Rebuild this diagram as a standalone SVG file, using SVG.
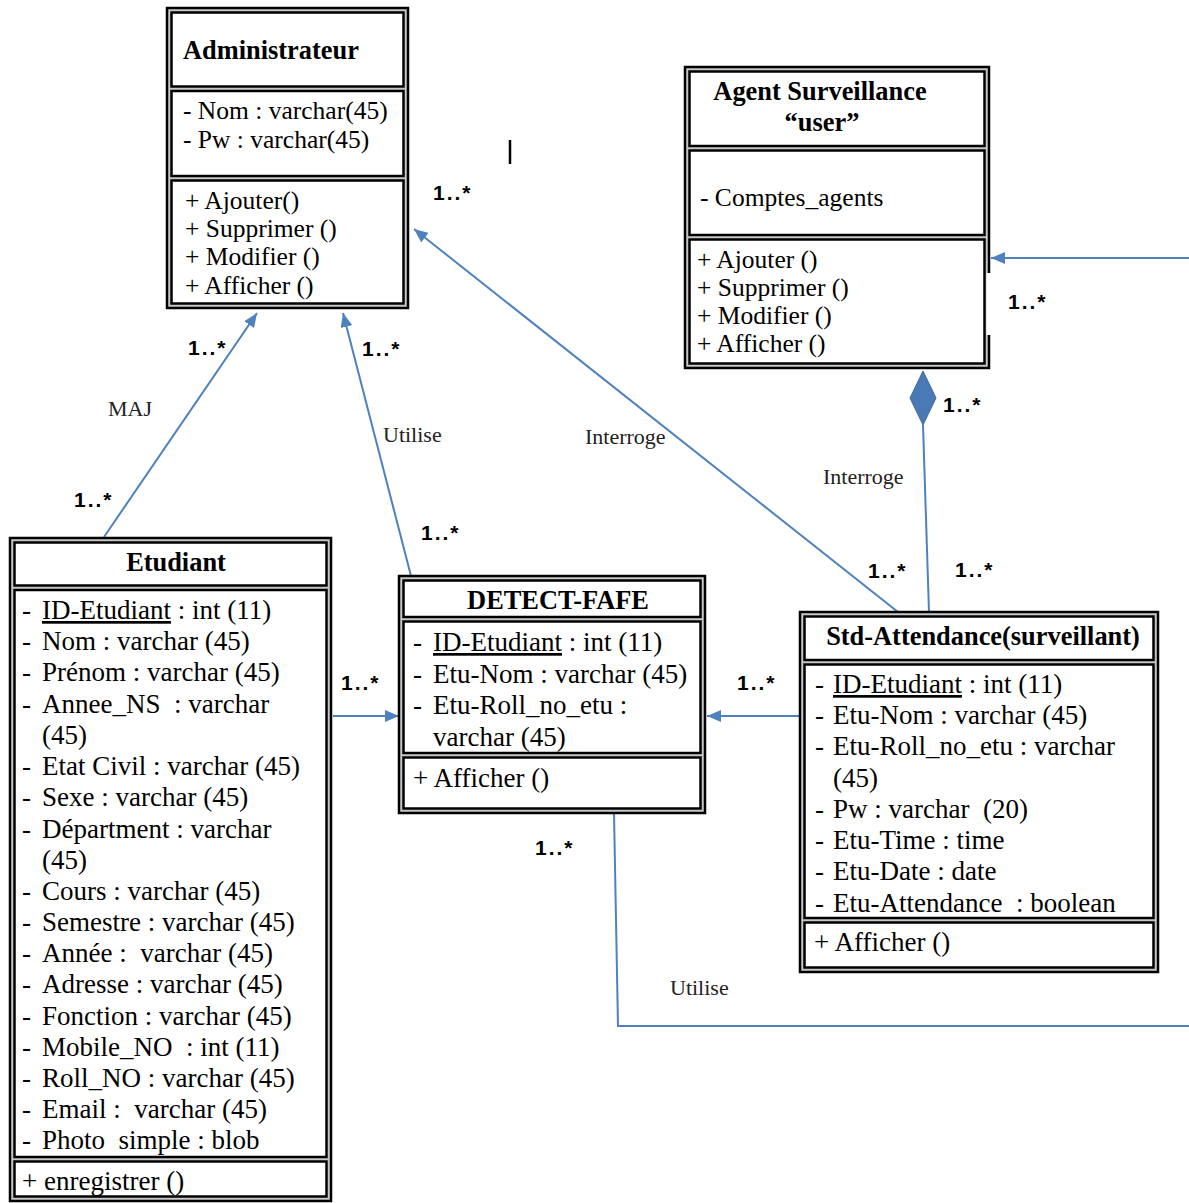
<svg xmlns="http://www.w3.org/2000/svg" width="1189" height="1203" viewBox="0 0 1189 1203">
<style>
.frame{fill:#c8c8c8;stroke:#000;stroke-width:2.5}
.comp{fill:#fff;stroke:#000;stroke-width:2.5}
.hd{font-family:"Liberation Serif","Times New Roman",serif;font-weight:bold;font-size:26.4px;fill:#000}
.at{font-family:"Liberation Serif","Times New Roman",serif;font-size:27px;fill:#000;white-space:pre}
.sm{font-family:"Liberation Serif","Times New Roman",serif;font-size:25.5px;fill:#000}
.u{text-decoration:underline}
.mult{font-family:"Liberation Sans",Arial,sans-serif;font-weight:bold;font-size:21px;letter-spacing:2px;fill:#000}
.lbl{font-family:"Liberation Serif","Times New Roman",serif;font-size:22px;fill:#222}
.cn{fill:none;stroke:#4f81bd;stroke-width:2}
</style>
<defs>
<marker id="arr" viewBox="0 0 14 12" refX="14" refY="6" markerWidth="14" markerHeight="12" markerUnits="userSpaceOnUse" orient="auto">
<path d="M0,0 L14,6 L0,12 z" fill="#4f81bd"/>
</marker>
</defs>
<rect width="1189" height="1203" fill="#fff"/>

<g id="connectors">
<line class="cn" x1="104" y1="537" x2="257" y2="313" marker-end="url(#arr)"/>
<line class="cn" x1="411" y1="576" x2="343" y2="313" marker-end="url(#arr)"/>
<line class="cn" x1="898" y1="612" x2="414" y2="229" marker-end="url(#arr)"/>
<line class="cn" x1="333" y1="716" x2="399" y2="716" marker-end="url(#arr)"/>
<line class="cn" x1="799" y1="716" x2="707" y2="716" marker-end="url(#arr)"/>
<polyline class="cn" points="614,813 618,1026 1189,1026"/>
<line class="cn" x1="1189" y1="258" x2="991" y2="258" marker-end="url(#arr)"/>
<line class="cn" x1="923" y1="425" x2="929" y2="612"/>
<polygon points="923,371 936,398 923,425 910,398" fill="#4a7ab5" stroke="#3f6a9e" stroke-width="1"/>
<line x1="510" y1="140" x2="510" y2="164" stroke="#000" stroke-width="2.5"/>

<text class="lbl" x="108" y="416">MAJ</text>
<text class="lbl" x="383" y="442">Utilise</text>
<text class="lbl" x="585" y="444">Interroge</text>
<text class="lbl" x="823" y="484">Interroge</text>
<text class="lbl" x="670" y="995">Utilise</text>

<text class="mult" x="433" y="200">1..*</text>
<text class="mult" x="188" y="355">1..*</text>
<text class="mult" x="362" y="356">1..*</text>
<text class="mult" x="74" y="507">1..*</text>
<text class="mult" x="421" y="540">1..*</text>
<text class="mult" x="341" y="690">1..*</text>
<text class="mult" x="737" y="690">1..*</text>
<text class="mult" x="868" y="578">1..*</text>
<text class="mult" x="955" y="577">1..*</text>
<text class="mult" x="943" y="412">1..*</text>
<text class="mult" x="1008" y="309">1..*</text>
<text class="mult" x="535" y="855">1..*</text>
</g>

<g id="administrateur">
<rect class="frame" x="167" y="8" width="241" height="300"/>
<rect class="comp" x="171.5" y="12.5" width="232" height="74"/>
<rect class="comp" x="171.5" y="91" width="232" height="85"/>
<rect class="comp" x="171.5" y="180.5" width="232" height="123"/>
<text class="hd" x="183" y="59">Administrateur</text>
<text class="sm" x="183" y="119" font-size="26.5">- Nom : varchar(45)</text>
<text class="sm" x="183" y="148" font-size="26.5">- Pw : varchar(45)</text>
<text class="sm" x="185" y="209">+ Ajouter()</text>
<text class="sm" x="185" y="237">+ Supprimer ()</text>
<text class="sm" x="185" y="265">+ Modifier ()</text>
<text class="sm" x="185" y="294">+ Afficher ()</text>
</g>

<g id="agent">
<rect class="frame" x="685" y="67" width="304" height="301"/>
<rect class="comp" x="689.5" y="71.5" width="295" height="74.5"/>
<rect class="comp" x="689.5" y="150.5" width="295" height="84.5"/>
<rect class="comp" x="689.5" y="239.5" width="295" height="124"/>
<rect x="986.5" y="273" width="5" height="62" fill="#fff"/>
<text class="hd" x="820" y="100" text-anchor="middle">Agent Surveillance</text>
<text class="hd" x="822" y="131" text-anchor="middle">“user”</text>
<text class="sm" x="700" y="206">- Comptes_agents</text>
<text class="sm" x="697" y="268">+ Ajouter ()</text>
<text class="sm" x="697" y="296">+ Supprimer ()</text>
<text class="sm" x="697" y="324">+ Modifier ()</text>
<text class="sm" x="697" y="352">+ Afficher ()</text>
</g>

<g id="etudiant">
<rect class="frame" x="10" y="538" width="321" height="663"/>
<rect class="comp" x="14.5" y="542.5" width="312" height="43"/>
<rect class="comp" x="14.5" y="590" width="312" height="567"/>
<rect class="comp" x="14.5" y="1161.5" width="312" height="35"/>
<text class="hd" x="176" y="571" text-anchor="middle">Etudiant</text>
<g class="at">
<text x="22" y="619">-</text><text x="42" y="619"><tspan class="u">ID-Etudiant</tspan> : int (11)</text>
<text x="22" y="650">-</text><text x="42" y="650">Nom : varchar (45)</text>
<text x="22" y="681">-</text><text x="42" y="681">Prénom : varchar (45)</text>
<text x="22" y="713">-</text><text x="42" y="713" xml:space="preserve">Annee_NS  : varchar</text>
<text x="42" y="744">(45)</text>
<text x="22" y="775">-</text><text x="42" y="775">Etat Civil : varchar (45)</text>
<text x="22" y="806">-</text><text x="42" y="806">Sexe : varchar (45)</text>
<text x="22" y="838">-</text><text x="42" y="838">Départment : varchar</text>
<text x="42" y="869">(45)</text>
<text x="22" y="900">-</text><text x="42" y="900">Cours : varchar (45)</text>
<text x="22" y="931">-</text><text x="42" y="931">Semestre : varchar (45)</text>
<text x="22" y="962">-</text><text x="42" y="962" xml:space="preserve">Année :  varchar (45)</text>
<text x="22" y="993">-</text><text x="42" y="993">Adresse : varchar (45)</text>
<text x="22" y="1025">-</text><text x="42" y="1025">Fonction : varchar (45)</text>
<text x="22" y="1056">-</text><text x="42" y="1056" xml:space="preserve">Mobile_NO  : int (11)</text>
<text x="22" y="1087">-</text><text x="42" y="1087">Roll_NO : varchar (45)</text>
<text x="22" y="1118">-</text><text x="42" y="1118" xml:space="preserve">Email :  varchar (45)</text>
<text x="22" y="1149">-</text><text x="42" y="1149" xml:space="preserve">Photo  simple : blob</text>
<text x="22" y="1190">+ enregistrer ()</text>
</g>
</g>

<g id="detect-fafe">
<rect class="frame" x="399" y="576" width="306" height="237"/>
<rect class="comp" x="403.5" y="580.5" width="297" height="36.5"/>
<rect class="comp" x="403.5" y="621.5" width="297" height="131.5"/>
<rect class="comp" x="403.5" y="757.5" width="297" height="51"/>
<text class="hd" x="558" y="609" text-anchor="middle">DETECT-FAFE</text>
<g class="at">
<text x="413" y="651">-</text><text x="433" y="651"><tspan class="u">ID-Etudiant</tspan> : int (11)</text>
<text x="413" y="683">-</text><text x="433" y="683">Etu-Nom : varchar (45)</text>
<text x="413" y="714">-</text><text x="433" y="714">Etu-Roll_no_etu :</text>
<text x="433" y="746">varchar (45)</text>
<text x="413" y="787">+ Afficher ()</text>
</g>
</g>

<g id="std-attendance">
<rect class="frame" x="800" y="612" width="358" height="360"/>
<rect class="comp" x="804.5" y="616.5" width="349" height="43.5"/>
<rect class="comp" x="804.5" y="664.5" width="349" height="253.5"/>
<rect class="comp" x="804.5" y="922.5" width="349" height="45"/>
<text class="hd" x="983" y="645" text-anchor="middle">Std-Attendance(surveillant)</text>
<g class="at">
<text x="815" y="693">-</text><text x="833" y="693"><tspan class="u">ID-Etudiant</tspan> : int (11)</text>
<text x="815" y="724">-</text><text x="833" y="724">Etu-Nom : varchar (45)</text>
<text x="815" y="755">-</text><text x="833" y="755">Etu-Roll_no_etu : varchar</text>
<text x="833" y="787">(45)</text>
<text x="815" y="818">-</text><text x="833" y="818" xml:space="preserve">Pw : varchar  (20)</text>
<text x="815" y="849">-</text><text x="833" y="849">Etu-Time : time</text>
<text x="815" y="880">-</text><text x="833" y="880">Etu-Date : date</text>
<text x="815" y="912">-</text><text x="833" y="912" xml:space="preserve">Etu-Attendance  : boolean</text>
<text x="814" y="951">+ Afficher ()</text>
</g>
</g>
</svg>
